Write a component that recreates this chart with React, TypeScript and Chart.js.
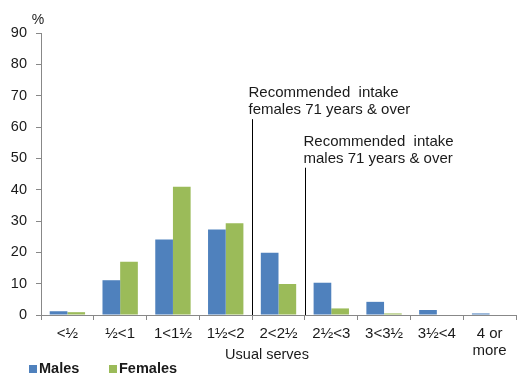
import React, { useEffect, useRef } from "react";
import { Chart, registerables } from "chart.js";

Chart.register(...registerables);

const categories: (string | string[])[] = ["<½", "½<1", "1<1½", "1½<2", "2<2½", "2½<3", "3<3½", "3½<4", ["4 or", "more"]];
const males = [1.2, 11.1, 24.1, 27.3, 19.9, 10.3, 4.2, 1.6, 0.5];
const females = [0.9, 17.0, 40.9, 29.3, 9.9, 2.1, 0.5, 0, 0];
const seriesNames = ["Males", "Females"];
const yTicksMax = 90;
// recommended intake markers: boundary after category index, top value
const femaleRec = { after: 3, top: 62.5, lines: ["Recommended  intake", "females 71 years & over"] };
const maleRec = { after: 4, top: 47, lines: ["Recommended  intake", "males 71 years & over"] };
const xTitle = "Usual serves";
const yUnit = "%";

const MALE_COLOR = "#4F81BD";
const FEMALE_COLOR = "#9BBB59";
const TEXT = "#1a1a1a";
const FONT = "'Liberation Sans', Arial, sans-serif";

export default function App() {
  const ref = useRef<HTMLCanvasElement | null>(null);
  useEffect(() => {
    if (!ref.current) return;
    const overlay = {
      id: "overlay",
      afterDatasetsDraw(chart: any) {
        const { ctx, scales } = chart;
        const x = scales.x;
        const y = scales.y;
        ctx.save();
        const drawRec = (rec: any, dx: number) => {
          const px = Math.round((x.getPixelForValue(rec.after) + x.getPixelForValue(rec.after + 1)) / 2) + 0.5;
          const top = y.getPixelForValue(rec.top);
          ctx.strokeStyle = "#000";
          ctx.lineWidth = 1;
          ctx.beginPath();
          ctx.moveTo(px, top);
          ctx.lineTo(px, y.getPixelForValue(0));
          ctx.stroke();
          ctx.fillStyle = TEXT;
          ctx.font = `15px ${FONT}`;
          ctx.textAlign = "left";
          ctx.textBaseline = "middle";
          ctx.fillText(rec.lines[0], px + dx, top - 26);
          ctx.fillText(rec.lines[1], px + dx, top - 9);
        };
        drawRec(femaleRec, -4);
        drawRec(maleRec, -2);
        // unit label
        ctx.fillStyle = TEXT;
        ctx.font = `14px ${FONT}`;
        ctx.textAlign = "center";
        ctx.textBaseline = "middle";
        ctx.fillText(yUnit, 38, 20);
        // x title
        ctx.font = `14.5px ${FONT}`;
        ctx.fillText(xTitle, 267, 355);
        // legend
        const items = [
          { name: seriesNames[0], color: MALE_COLOR, x: 29 },
          { name: seriesNames[1], color: FEMALE_COLOR, x: 109 },
        ];
        ctx.font = `bold 14.5px ${FONT}`;
        ctx.textAlign = "left";
        for (const it of items) {
          ctx.fillStyle = it.color;
          ctx.fillRect(it.x, 365, 8, 8);
          ctx.fillStyle = TEXT;
          ctx.fillText(it.name, it.x + 10, 369);
        }
        ctx.restore();
      },
    };
    const chart = new Chart(ref.current, {
      type: "bar",
      data: {
        labels: categories as any,
        datasets: [
          { label: seriesNames[0], data: males, backgroundColor: MALE_COLOR, borderWidth: 0 },
          { label: seriesNames[1], data: females, backgroundColor: FEMALE_COLOR, borderWidth: 0 },
        ],
      },
      options: {
        responsive: false,
        animation: false,
        layout: { padding: { left: 0, right: 1, top: 33, bottom: 0 } },
        plugins: { legend: { display: false }, tooltip: { enabled: false } },
        datasets: { bar: { categoryPercentage: 0.67, barPercentage: 1 } },
        scales: {
          x: {
            afterFit: (s: any) => { s.height = 61; },
            grid: { display: true, drawOnChartArea: false, drawTicks: true, tickLength: 5, color: "#888", offset: true },
            border: { display: true, color: "#888", width: 1 },
            ticks: { color: TEXT, font: { family: FONT, size: 15, lineHeight: 1.13 }, padding: 5, maxRotation: 0, autoSkip: false },
          },
          y: {
            min: 0,
            max: yTicksMax,
            afterFit: (s: any) => { s.width = 41; },
            grid: { display: true, drawOnChartArea: false, drawTicks: true, tickLength: 5, color: "#888" },
            border: { display: true, color: "#888", width: 1 },
            ticks: { stepSize: 10, color: TEXT, font: { family: FONT, size: 14.5 }, padding: 9 },
          },
        },
      },
      plugins: [overlay],
    });
    return () => chart.destroy();
  }, []);
  return (
    <div style={{ position: "fixed", left: 0, top: 0, width: 517, height: 376, background: "#fff" }}>
      <canvas ref={ref} width={517} height={376} />
    </div>
  );
}
